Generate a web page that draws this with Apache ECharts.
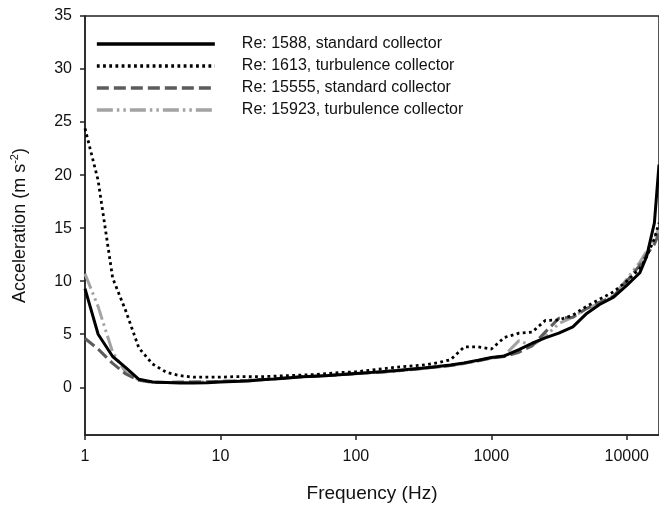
<!DOCTYPE html>
<html><head><meta charset="utf-8">
<script src="https://cdn.jsdelivr.net/npm/echarts@6/dist/echarts.min.js"></script>
<style>html,body{margin:0;padding:0;background:#fff}#c{width:659px;height:509px}</style>
</head><body><div id="c"></div>
<script>
const freq = [1,1.25,1.6,2,2.5,3.15,4,5,6.3,8,10,12.5,16,20,25,31.5,40,50,63,80,100,125,160,200,250,315,400,500,630,800,1000,1250,1600,2000,2500,3150,4000,5000,6300,8000,10000,12500,14000,16000,17300];
const re1588 = [9.3,5.0,2.9,1.85,0.75,0.5,0.45,0.4,0.4,0.42,0.5,0.55,0.6,0.7,0.78,0.88,0.98,1.05,1.12,1.2,1.3,1.38,1.48,1.58,1.7,1.82,1.95,2.1,2.3,2.55,2.8,2.95,3.55,4.15,4.65,5.1,5.7,6.9,7.8,8.5,9.6,10.8,12.3,15.5,21];
const re1613 = [24.4,19.5,10.3,7.2,3.7,2.2,1.4,1.1,0.95,0.95,0.95,1.0,1.0,1.0,1.05,1.1,1.15,1.2,1.3,1.4,1.45,1.6,1.75,1.9,2.0,2.1,2.3,2.6,3.8,3.8,3.6,4.7,5.1,5.2,6.3,6.35,6.8,7.6,8.3,9.0,10.0,11.2,12.3,14.0,15.5];
const re15555 = [4.6,3.6,2.25,1.25,0.65,0.45,0.45,0.5,0.5,0.52,0.55,0.6,0.65,0.72,0.8,0.9,0.98,1.05,1.12,1.2,1.28,1.36,1.45,1.55,1.65,1.78,1.9,2.05,2.25,2.5,2.75,2.9,3.3,3.9,5.2,6.5,6.6,7.4,8.0,8.6,10.0,11.5,12.5,13.5,14.5];
const re15923 = [10.7,7.6,3.3,1.4,0.7,0.5,0.45,0.45,0.48,0.5,0.55,0.6,0.65,0.72,0.8,0.9,0.98,1.05,1.12,1.2,1.28,1.36,1.45,1.55,1.65,1.78,1.9,2.05,2.25,2.5,2.75,3.0,4.4,3.9,4.8,6.0,6.6,7.4,7.9,8.6,10.2,11.8,12.8,14.0,15.0];
const seriesNames = ['Re: 1588, standard collector','Re: 1613, turbulence collector','Re: 15555, standard collector','Re: 15923, turbulence collector'];
const yTicks = [0,5,10,15,20,25,30,35];
const xTicks = [1,10,100,1000,10000];

const FONT = "'Liberation Sans', Arial, sans-serif";
const pairs = v => freq.map((f,i)=>[f, v[i]]);
const styles = [
  {color:'#000000', width:3, type:'solid'},
  {color:'#000000', width:2.8, type:[2.8,3.4]},
  {color:'#5c5c5c', width:3, type:[12,5]},
  {color:'#a3a3a3', width:3, type:[16,4,2.5,4,2.5,4]}
];
const vals = [re1588, re1613, re15555, re15923];

const chart = echarts.init(document.getElementById('c'), null, {renderer:'canvas'});
chart.setOption({
  animation:false,
  backgroundColor:'#ffffff',
  grid:{left:85, right:0, top:16, bottom:74, show:true, borderColor:'#222', borderWidth:1.5, backgroundColor:'transparent'},
  legend:{
    left:95, top:36, orient:'vertical', itemWidth:118, itemHeight:14, itemGap:6, padding:0,
    data: seriesNames.map((n,i)=>({name:n, itemStyle:{opacity:0},
      lineStyle:{color:styles[i].color, width:styles[i].width + 0.7, type:styles[i].type}})),
    itemStyle:{opacity:0},
    textStyle:{fontFamily:FONT, fontSize:16, color:'#111', lineHeight:14, padding:[0,0,0,22]}
  },
  xAxis:{
    type:'log', logBase:10, min:1, max:17300,
    name:'Frequency (Hz)', nameLocation:'middle', nameGap:49,
    nameTextStyle:{fontFamily:FONT, fontSize:19, color:'#111'},
    axisLine:{onZero:false, lineStyle:{color:'#222', width:1.5}},
    axisTick:{show:true, inside:false, length:5, lineStyle:{color:'#222', width:1.5}, customValues: xTicks},
    minorTick:{show:false},
    splitLine:{show:false},
    axisLabel:{fontFamily:FONT, fontSize:16, color:'#111', margin:14, customValues: xTicks,
      formatter: v => String(Math.round(v))}
  },
  yAxis:{
    type:'value', min:-4.5, max:35,
    name:'Acceleration (m s{sup|-2})', nameLocation:'middle', nameGap:54, nameRotate:90,
    nameTextStyle:{fontFamily:FONT, fontSize:18, color:'#111',
      rich:{sup:{fontFamily:FONT, fontSize:11, color:'#111', verticalAlign:'top', lineHeight:22}}},
    axisLine:{show:true, onZero:false, lineStyle:{color:'#222', width:1.5}},
    axisTick:{show:true, inside:false, length:5, lineStyle:{color:'#222', width:1.5}, customValues: yTicks},
    splitLine:{show:false},
    axisLabel:{fontFamily:FONT, fontSize:16, color:'#111', margin:13, customValues: yTicks}
  },
  series: seriesNames.map((n,i)=>({
    name:n, type:'line', data:pairs(vals[i]), symbol:'none', smooth:false,
    lineStyle:{color:styles[i].color, width:styles[i].width, type:styles[i].type},
    itemStyle:{color:styles[i].color},
    z: 10 - i
  }))
});
</script></body></html>
